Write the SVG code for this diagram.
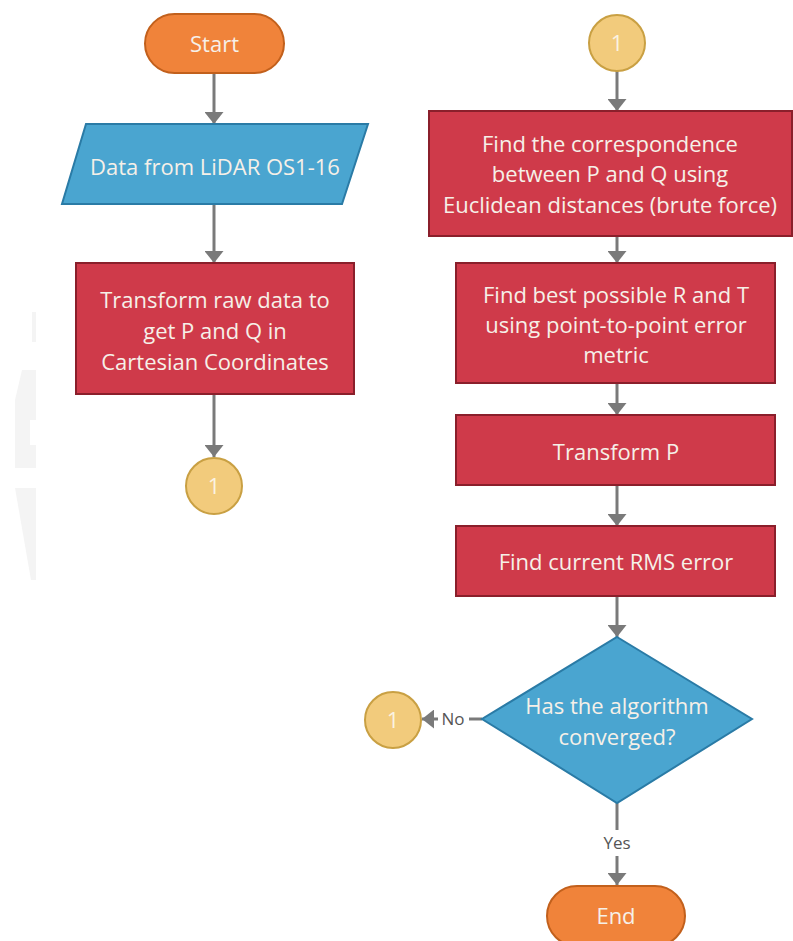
<svg xmlns="http://www.w3.org/2000/svg" width="793" height="941" viewBox="0 0 793 941">
  <defs>
    <style>
      .lbl { font-family: "Open Sans", "Noto Sans", "DejaVu Sans", sans-serif; font-size: 22px; fill: #F6F0E8; text-anchor: middle; }
      .num { fill: #FBF3E2; }
      .edge-lbl { font-family: "Open Sans", "Noto Sans", "DejaVu Sans", sans-serif; font-size: 17px; fill: #555555; text-anchor: middle; }
      .term { fill: #F0833A; stroke: #C2601C; stroke-width: 2; }
      .io { fill: #4AA5D0; stroke: #2A7BA6; stroke-width: 2; }
      .proc { fill: #CF3A4A; stroke: #8A1F2B; stroke-width: 2; }
      .dec { fill: #4AA5D0; stroke: #2A7BA6; stroke-width: 2; }
      .conn { fill: #F2CB7C; stroke: #C9A043; stroke-width: 2; }
      .wire { fill: none; stroke: #7A7A7A; stroke-width: 3; }
    </style>
    <marker id="arrow" markerUnits="userSpaceOnUse" markerWidth="12" markerHeight="19" refX="12" refY="9.5" viewBox="0 0 12 19" orient="auto">
      <path d="M0,0 L12,9.5 L0,19 Z" fill="#7A7A7A"/>
    </marker>
  </defs>

  <rect width="793" height="941" fill="#FFFFFF"/>

  <!-- faint backdrop marks on the left edge -->
  <g fill="#F4F4F4">
    <rect x="32" y="312" width="4" height="30"/>
    <polygon points="22,370 36,370 36,420 30,420 30,445 36,445 36,468 15,468 15,400"/>
    <polygon points="15,488 36,488 36,580 31,580"/>
  </g>

  <!-- connectors -->
  <g id="connectors">
    <line class="wire" x1="214" y1="73" x2="214" y2="124" marker-end="url(#arrow)"/>
    <line class="wire" x1="214" y1="204" x2="214" y2="263" marker-end="url(#arrow)"/>
    <line class="wire" x1="214" y1="394" x2="214" y2="457" marker-end="url(#arrow)"/>
    <line class="wire" x1="617" y1="71" x2="617" y2="111" marker-end="url(#arrow)"/>
    <line class="wire" x1="617" y1="236" x2="617" y2="263" marker-end="url(#arrow)"/>
    <line class="wire" x1="617" y1="383" x2="617" y2="415" marker-end="url(#arrow)"/>
    <line class="wire" x1="617" y1="485" x2="617" y2="526" marker-end="url(#arrow)"/>
    <line class="wire" x1="617" y1="596" x2="617" y2="637" marker-end="url(#arrow)"/>
    <line class="wire" x1="482" y1="719" x2="422" y2="719" marker-end="url(#arrow)"/>
    <line class="wire" x1="617" y1="803" x2="617" y2="885" marker-end="url(#arrow)"/>
    <rect x="438" y="708" width="31" height="22" fill="#FFFFFF"/>
    <text class="edge-lbl" x="453" y="725">No</text>
    <rect x="599" y="830" width="36" height="26" fill="#FFFFFF"/>
    <text class="edge-lbl" x="617" y="849">Yes</text>
  </g>

  <g id="start">
    <rect class="term" x="145" y="14" width="139" height="59" rx="29.5"/>
    <text class="lbl" x="214.5" y="52">Start</text>
  </g>

  <g id="lidar-data">
    <polygon class="io" points="86,124 368,124 342,204 62,204"/>
    <text class="lbl" x="215" y="175">Data from LiDAR OS1-16</text>
  </g>

  <g id="transform-raw">
    <rect class="proc" x="76" y="263" width="278" height="131"/>
    <text class="lbl" x="215" y="308">Transform raw data to</text>
    <text class="lbl" x="215" y="339">get P and Q in</text>
    <text class="lbl" x="215" y="370">Cartesian Coordinates</text>
  </g>

  <g id="connector-out">
    <circle class="conn" cx="214" cy="486" r="28"/>
    <text class="lbl num" x="214" y="494">1</text>
  </g>

  <g id="connector-in">
    <circle class="conn" cx="617" cy="43" r="28"/>
    <text class="lbl num" x="617" y="51">1</text>
  </g>

  <g id="find-correspondence">
    <rect class="proc" x="429" y="111" width="363" height="125"/>
    <text class="lbl" x="610" y="152">Find the correspondence</text>
    <text class="lbl" x="610" y="182">between P and Q  using</text>
    <text class="lbl" x="610" y="213">Euclidean distances (brute force)</text>
  </g>

  <g id="find-rt">
    <rect class="proc" x="456" y="263" width="319" height="120"/>
    <text class="lbl" x="616" y="303">Find best possible R and T</text>
    <text class="lbl" x="616" y="333">using point-to-point error</text>
    <text class="lbl" x="616" y="363">metric</text>
  </g>

  <g id="transform-p">
    <rect class="proc" x="456" y="415" width="319" height="70"/>
    <text class="lbl" x="616" y="460">Transform P</text>
  </g>

  <g id="rms-error">
    <rect class="proc" x="456" y="526" width="319" height="70"/>
    <text class="lbl" x="616" y="570">Find current RMS error</text>
  </g>

  <g id="converged">
    <polygon class="dec" points="617,637 752,719 617,803 482,719"/>
    <text class="lbl" x="617" y="714">Has the algorithm</text>
    <text class="lbl" x="617" y="745">converged?</text>
  </g>

  <g id="connector-loop">
    <circle class="conn" cx="393" cy="720" r="28"/>
    <text class="lbl num" x="393" y="728">1</text>
  </g>

  <g id="end">
    <rect class="term" x="547" y="886" width="138" height="60" rx="30"/>
    <text class="lbl" x="616" y="924">End</text>
  </g>
</svg>
